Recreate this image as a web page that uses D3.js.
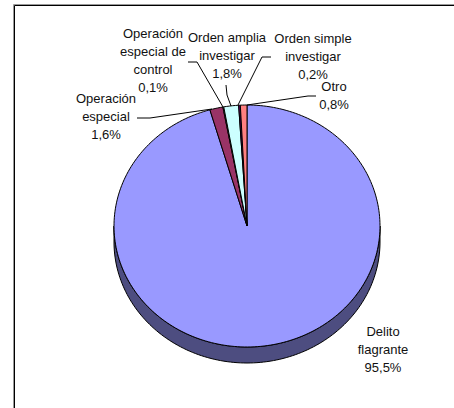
<!DOCTYPE html>
<html><head><meta charset="utf-8"><script src="https://cdn.jsdelivr.net/npm/d3@7"></script>
<style>html,body{margin:0;padding:0;background:#fff}svg{display:block}text{font-family:"Liberation Sans",Arial,sans-serif;font-size:13px;fill:#111}</style></head>
<body><svg id="c" width="454" height="408"></svg>
<script>
const categories=["Delito flagrante","Operación especial","Operación especial de control","Orden amplia investigar","Orden simple investigar","Otro"];
const values=[95.5,1.6,0.1,1.8,0.2,0.8];
const colors=["#9999FF","#993366","#FFFFCC","#CCFFFF","#660066","#FF8080"];
const wallColor="#4D4D80";
const labelLines=[["Delito","flagrante","95,5%"],["Operación","especial","1,6%"],["Operación","especial de","control","0,1%"],["Orden amplia","investigar","1,8%"],["Orden simple","investigar","0,2%"],["Otro","0,8%"]];
const labelPos=[[383,336],[106,103],[153,38],[227,42],[313,43],[334,91]];
const leaders=[[[137,118],[150,118],[212,109]],[[188,62],[197,62],[223,107]],[[226,85],[227,95],[231,106]],[[271,57],[262,57],[238,105]],[[316,96],[308,96],[247,105]]];
const svg=d3.select("#c");
svg.append("path").attr("d","M13.5,408 V4.5 H454").attr("fill","none").attr("stroke","#999").attr("stroke-width",1);
svg.append("path").attr("d","M14.5,408 V5.5 H454").attr("fill","none").attr("stroke","#000").attr("stroke-width",1);
const cx=247,cy=226,rx=133,ry=121,depth=16;
const pie=d3.pie().sort(null).value(d=>d).startAngle(0).endAngle(2*Math.PI);
const arcs=pie(values);
const g=svg.append("g");
const pt=a=>[cx+rx*Math.sin(a),cy-ry*Math.cos(a)];
function arcPath(a0,a1){const n=Math.max(2,Math.ceil((a1-a0)*40));return d3.range(n+1).map(k=>pt(a0+(a1-a0)*k/n));}
const rimTop=arcPath(Math.PI/2,Math.PI*1.5);
const rimBottom=rimTop.map(p=>[p[0],p[1]+depth]).reverse();
g.append("path").attr("d",d3.line()([...rimTop,...rimBottom])+"Z").attr("fill",wallColor).attr("stroke","#000").attr("stroke-width",1);
arcs.forEach((d,i)=>{
 const pts=[[cx,cy],...arcPath(d.startAngle,d.endAngle)];
 g.append("path").attr("d",d3.line()(pts)+"Z").attr("fill",colors[i]).attr("stroke","#000").attr("stroke-width",1).attr("stroke-linejoin","round");
});
leaders.forEach(l=>svg.append("path").attr("d",d3.line()(l)).attr("fill","none").attr("stroke","#000").attr("stroke-width",1));
labelLines.forEach((lines,i)=>{
 const t=svg.append("text").attr("text-anchor","middle");
 lines.forEach((s,k)=>t.append("tspan").attr("x",labelPos[i][0]).attr("y",labelPos[i][1]+k*18).text(s));
});
</script></body></html>
